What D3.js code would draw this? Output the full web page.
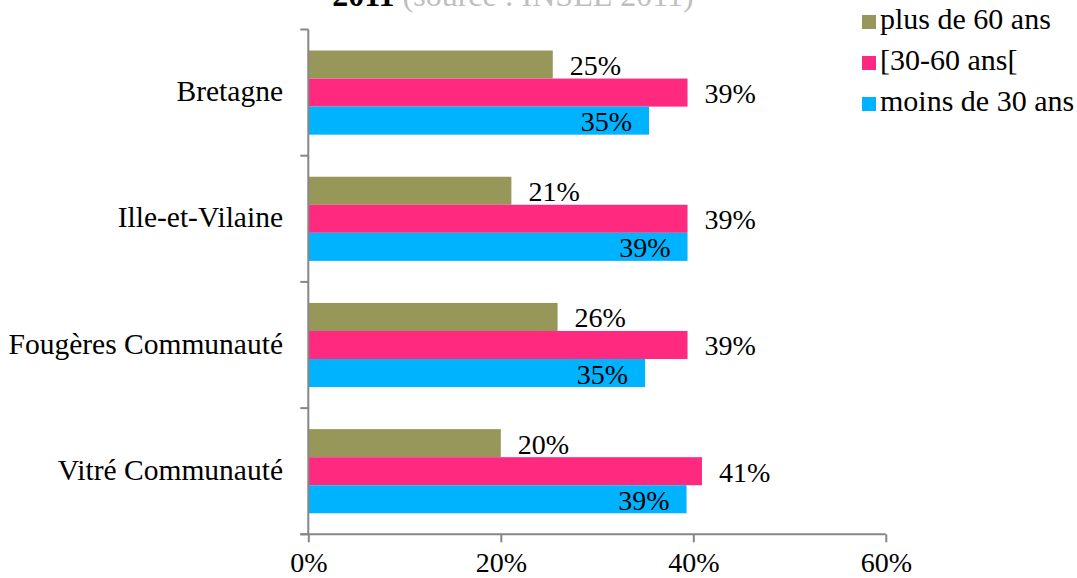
<!DOCTYPE html>
<html>
<head>
<meta charset="utf-8">
<script src="https://cdn.jsdelivr.net/npm/d3@7"></script>
<style>
  html, body { margin: 0; padding: 0; background: #fff; }
  svg { display: block; }
  text { font-family: "Liberation Serif", "Times New Roman", serif; fill: #000; }
</style>
</head>
<body>
<svg id="chart" width="1077" height="578"></svg>
<script>
// Territories, top to bottom
const categories = ["Bretagne", "Ille-et-Vilaine", "Fougères Communauté", "Vitré Communauté"];
// Age groups, drawn top to bottom inside each territory
const seriesNames = ["plus de 60 ans", "[30-60 ans[", "moins de 30 ans"];
const seriesColors = ["#979759", "#ff2a80", "#00b3ff"];
// Share of population per age group (%)
const plus60 = [25.4, 21.1, 25.9, 20.0];
const de30a60 = [39.4, 39.4, 39.4, 40.9];
const moins30 = [35.4, 39.4, 35.0, 39.3];
const xTicks = [0, 0.2, 0.4, 0.6];

const seriesValues = [plus60, de30a60, moins30];

const svg = d3.select("#chart");
const fs = 28;

const x = d3.scaleLinear().domain([0, 0.6]).range([308.3, 885.8]);
const y = d3.scaleBand().domain(categories).range([29.5, 534.3]).padding(0);
const ySub = d3.scaleBand().domain(seriesNames).range([0, y.bandwidth()])
  .paddingInner(0).paddingOuter(0.75);

// Title line
const title = svg.append("text")
  .attr("x", 513).attr("y", 6)
  .attr("text-anchor", "middle")
  .style("font-size", "32px");
title.append("tspan").attr("font-weight", "bold").text("2011");
title.append("tspan").style("fill", "#bfbfbf").text(" (source : INSEE 2011)");

// Bars
const rows = categories.map((c, i) => ({ cat: c, vals: seriesNames.map((s, k) => ({ s, k, v: seriesValues[k][i] / 100 })) }));

const g = svg.append("g");
const groups = g.selectAll("g.cat").data(rows).join("g")
  .attr("class", "cat")
  .attr("transform", d => `translate(0,${y(d.cat)})`);

groups.selectAll("rect").data(d => d.vals).join("rect")
  .attr("x", x(0))
  .attr("y", d => ySub(d.s))
  .attr("width", d => x(d.v) - x(0))
  .attr("height", ySub.bandwidth())
  .attr("fill", d => seriesColors[d.k]);

// Value labels: outside for the two top bars, inside the end for the bottom bar
const fmt = d3.format(".0%");
groups.selectAll("text.val").data(d => d.vals).join("text")
  .attr("class", "val")
  .attr("x", d => d.k === 2 ? x(d.v) - 17 : x(d.v) + 17)
  .attr("y", d => ySub(d.s) + ySub.bandwidth() / 2 + 10.5)
  .attr("text-anchor", d => d.k === 2 ? "end" : "start")
  .style("font-size", fs + "px")
  .text(d => fmt(d.v));

// Axes
const axisColor = "#868686";
const yAxis = svg.append("g").attr("transform", `translate(${x(0)},0)`);
yAxis.append("line").attr("x1", 0).attr("x2", 0).attr("y1", y.range()[0]).attr("y2", y.range()[1])
  .attr("stroke", axisColor).attr("stroke-width", 2);
const bounds = categories.map(c => y(c)).concat([y.range()[1]]);
yAxis.selectAll("line.bt").data(bounds).join("line")
  .attr("class", "bt")
  .attr("x1", -8).attr("x2", 0)
  .attr("y1", d => d).attr("y2", d => d)
  .attr("stroke", axisColor).attr("stroke-width", 2);

svg.selectAll("text.cat").data(categories).join("text")
  .attr("class", "cat")
  .attr("x", 283)
  .attr("y", d => y(d) + y.bandwidth() / 2 + 8.5)
  .attr("text-anchor", "end")
  .style("font-size", "29.5px")
  .text(d => d);

const xAxis = svg.append("g").attr("transform", `translate(0,${y.range()[1]})`)
  .call(d3.axisBottom(x).tickValues(xTicks).tickFormat(d3.format(".0%")).tickSize(8).tickSizeOuter(0));
xAxis.select(".domain").attr("stroke", axisColor).attr("stroke-width", 2)
  .attr("d", `M${x(0) - 8},0H${x(0.6)}`);
xAxis.selectAll(".tick line").attr("stroke", axisColor).attr("stroke-width", 2);
xAxis.selectAll(".tick text")
  .attr("y", 38)
  .attr("dy", 0)
  .style("font-size", fs + "px")
  .style("font-family", '"Liberation Serif", serif')
  .attr("fill", "#000");

// Legend
const legend = svg.append("g");
const items = legend.selectAll("g").data(seriesNames).join("g")
  .attr("transform", (d, i) => `translate(862,${15 + i * 41})`);
items.append("rect").attr("width", 14).attr("height", 14)
  .attr("fill", (d, i) => seriesColors[i]);
items.append("text").attr("x", 18).attr("y", 14)
  .style("font-size", "30px")
  .text(d => d);
</script>
</body>
</html>
